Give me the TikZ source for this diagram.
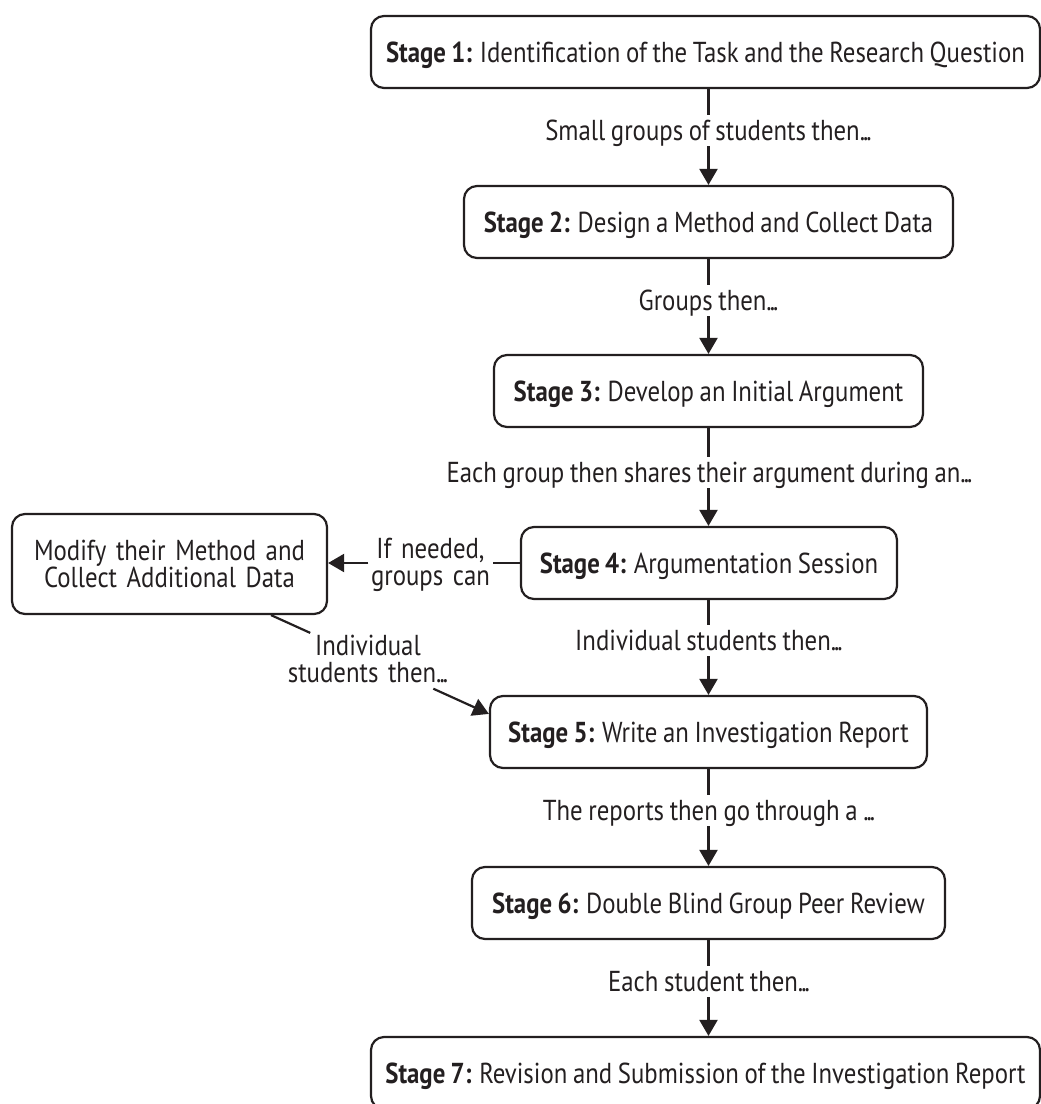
\documentclass[tikz,border=0pt]{standalone}
\usepackage{fontspec}
\setmainfont{PT Sans}[FakeStretch=0.86, WordSpace=0.85]
\usetikzlibrary{arrows.meta,calc}
\definecolor{ink}{HTML}{231F20}
\newlength\calw
\newcommand\tdots{.\kern-0.07em.\kern-0.07em.}
\begin{document}
\settowidth\calw{\fontsize{10pt}{12pt}\selectfont\textbf{Stage 1:} Identification of the Task and the Research Question}%
\pgfmathsetmacro\fs{6390/\calw}\global\let\fs\fs%
\pgfmathsetmacro\capht{0.70*\fs}\global\let\capht\capht%
\begin{tikzpicture}[x=1pt,y=-1pt]
\tikzset{
  txt/.style={font=\fontsize{\fs pt}{27pt}\selectfont, text=ink, inner sep=0pt, text height=\capht pt, text depth=0pt},
  stagebox/.style={txt, draw=ink, line width=2.2pt, rounded corners=13pt, minimum height=72pt},
  lbl/.style={txt},
  twoline/.style={align=center, text depth=27pt},
  conn/.style={draw=ink, line width=2.2pt},
  arr/.style={conn, -{Triangle[length=16pt,width=18pt]}},
}
\useasboundingbox (0,0) rectangle (1041,1104);

\node[stagebox, minimum width=669pt] (s1) at (705.5,52) {\textbf{Stage 1:} Identification of the Task and the Research Question};
\node[stagebox, minimum width=489pt] (s2) at (708.5,222) {\textbf{Stage 2:} Design a Method and Collect Data};
\node[stagebox, minimum width=429pt] (s3) at (708.5,391) {\textbf{Stage 3:} Develop an Initial Argument};
\node[stagebox, minimum width=376pt] (s4) at (709,563) {\textbf{Stage 4:} Argumentation Session};
\node[stagebox, minimum width=437pt] (s5) at (708.5,732) {\textbf{Stage 5:} Write an Investigation Report};
\node[stagebox, minimum width=473pt] (s6) at (708.5,903) {\textbf{Stage 6:} Double Blind Group Peer Review};
\node[stagebox, minimum width=669pt] (s7) at (705.5,1073) {\textbf{Stage 7:} Revision and Submission of the Investigation Report};

\node[stagebox, twoline, text width=295pt, minimum width=315pt, minimum height=100pt] (mod) at (169.5,564) {Modify their Method and\\Collect Additional Data};

\node[lbl] (l1) at (708.5,130) {Small groups of students then\tdots};
\node[lbl] (l2) at (708.5,300) {Groups then\tdots};
\node[lbl] (l3) at (709.5,472) {Each group then shares their argument during an\tdots};
\node[lbl] (l4) at (709,640) {Individual students then\tdots};
\node[lbl] (l5) at (709,810) {The reports then go through a \tdots};
\node[lbl] (l6) at (709,981) {Each student then\tdots};

\node[lbl, twoline, text width=124pt] (ifn) at (430.5,562) {If needed,\\groups can};

% vertical flow
\draw[conn] (s1.south -| s2.north) -- ([yshift=15pt]l1.center);
\draw[arr] ([yshift=-16pt]l1.center) -- (s2.north);
\draw[conn] (s2.south) -- ([yshift=15pt]l2.center);
\draw[arr] ([yshift=-16pt]l2.center) -- (s3.north);
\draw[conn] (s3.south) -- ([yshift=15pt]l3.center -| s3.south);
\draw[arr] ([yshift=-16pt]l3.center -| s3.south) -- (s3.south |- s4.north);
\draw[conn] (s4.south -| s5.north) -- ([yshift=15pt]l4.center -| s5.north);
\draw[arr] ([yshift=-16pt]l4.center -| s5.north) -- (s5.north);
\draw[conn] (s5.south) -- ([yshift=15pt]l5.center -| s5.south);
\draw[arr] ([yshift=-16pt]l5.center -| s5.south) -- (s6.north);
\draw[conn] (s6.south) -- ([yshift=15pt]l6.center -| s6.south);
\draw[arr] ([yshift=-16pt]l6.center -| s6.south) -- (s6.south |- s7.north);

% side branch
\draw[conn] (s4.west) -- (s4.west -| ifn.east);
\draw[arr] (ifn.west |- s4.west) -- (mod.east |- s4.west);

\coordinate (d0) at ($(mod.south west)!0.82!(mod.south east)$);
\coordinate (d1) at ([yshift=-19pt]s5.north west);
\node[lbl, twoline, text width=190pt] (ind) at ($(d0)!0.445!(d1)$) {Individual\\students then\tdots};
\draw[conn] (d0) -- ($(d0)!0.18!(d1)$);
\draw[arr] ($(d0)!0.745!(d1)$) -- (d1);
\end{tikzpicture}
\end{document}
